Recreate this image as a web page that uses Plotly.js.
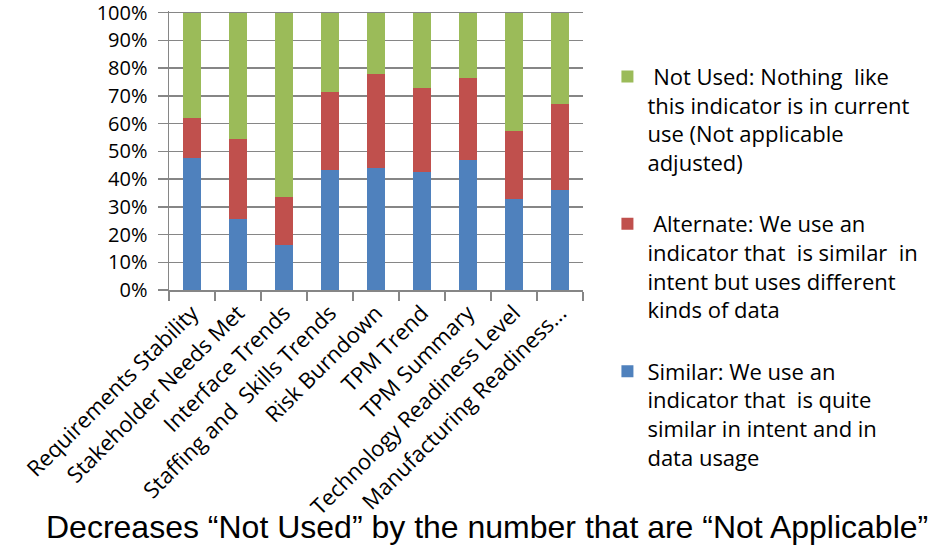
<!DOCTYPE html>
<html>
<head>
<meta charset="utf-8">
<script src="https://cdn.plot.ly/plotly-3.0.1.min.js"></script>
<style>html,body{margin:0;padding:0;background:#fff;}#chart{width:935px;height:545px;}</style>
</head>
<body>
<div id="chart"></div>
<script>
var categories = ["Requirements Stability","Stakeholder Needs Met","Interface Trends","Staffing and  Skills Trends","Risk Burndown","TPM Trend","TPM Summary","Technology Readiness Level","Manufacturing Readiness..."];
var similar   = [47.5, 25.5, 16.1, 43.2, 43.9, 42.4, 46.8, 32.9, 35.9];
var alternate = [14.4, 29.1, 17.5, 28.1, 34.0, 30.5, 29.7, 24.5, 31.1];
var notUsed   = [38.1, 45.4, 66.4, 28.7, 22.1, 27.1, 23.5, 42.6, 33.0];
var seriesNames = [
  "Similar: We use an<br>indicator that  is quite<br>similar in intent and in<br>data usage",
  " Alternate: We use an<br>indicator that  is similar  in<br>intent but uses different<br>kinds of data",
  " Not Used: Nothing  like<br>this indicator is in current<br>use (Not applicable<br>adjusted)"
];
var yTickVals = [0,10,20,30,40,50,60,70,80,90,100];
var yTickText = ["0%","10%","20%","30%","40%","50%","60%","70%","80%","90%","100%"];
var caption = "Decreases “Not Used” by the number that are “Not Applicable”";

var colors = ["#4F81BD","#C0504D","#9BBB59"];
var seriesValues = [similar, alternate, notUsed];
var traces = seriesValues.map(function(v,i){
  return {type:"bar", x:categories, y:v, name:seriesNames[i], legendgroup:"g"+i, legendrank:3-i,
    marker:{color:colors[i], line:{width:0}}, hoverinfo:"none"};
});

var font = "'Open Sans', Lato, sans-serif";
var layout = {
  width:935, height:545,
  margin:{l:169, r:345, t:11.33, b:254.5},
  barmode:"stack", bargap:0.62,
  paper_bgcolor:"#fff", plot_bgcolor:"#fff",
  font:{family:font, size:20, color:"#000"},
  xaxis:{tickangle:-45, tickfont:{family:font, size:22, color:"#000"},
    ticks:"outside", tickson:"boundaries", ticklen:9, tickcolor:"#868686", tickwidth:1.5,
    showline:true, linecolor:"#868686", linewidth:1.5, showgrid:false, automargin:false},
  yaxis:{range:[0,100.6], tickvals:yTickVals, ticktext:yTickText, ticks:"outside", ticklen:10,
    tickcolor:"#868686", tickwidth:1.5, showline:true, linecolor:"#868686", linewidth:1.5,
    showgrid:true, gridcolor:"#868686", gridwidth:1.5, zeroline:false, ticklabelstandoff:6,
    ticklabeloverflow:"allow",
    tickfont:{family:font, size:20, color:"#000"}, automargin:false},
  showlegend:true,
  legend:{x:1.059, xanchor:"left", y:0.84, yanchor:"top", valign:"top", maxheight:545,
    font:{family:font, size:22, color:"#000"}, tracegroupgap:30, traceorder:"grouped",
    bgcolor:"rgba(0,0,0,0)"},
  annotations:[{text:caption, xref:"paper", yref:"paper", x:(492.5-169)/421, y:(290.5-528)/279.17,
    xanchor:"center", yanchor:"middle",
    showarrow:false, font:{family:"'Liberation Sans', Arial, sans-serif", size:32, color:"#000"}}]
};
Plotly.newPlot("chart", traces, layout, {staticPlot:true});
</script>
</body>
</html>
